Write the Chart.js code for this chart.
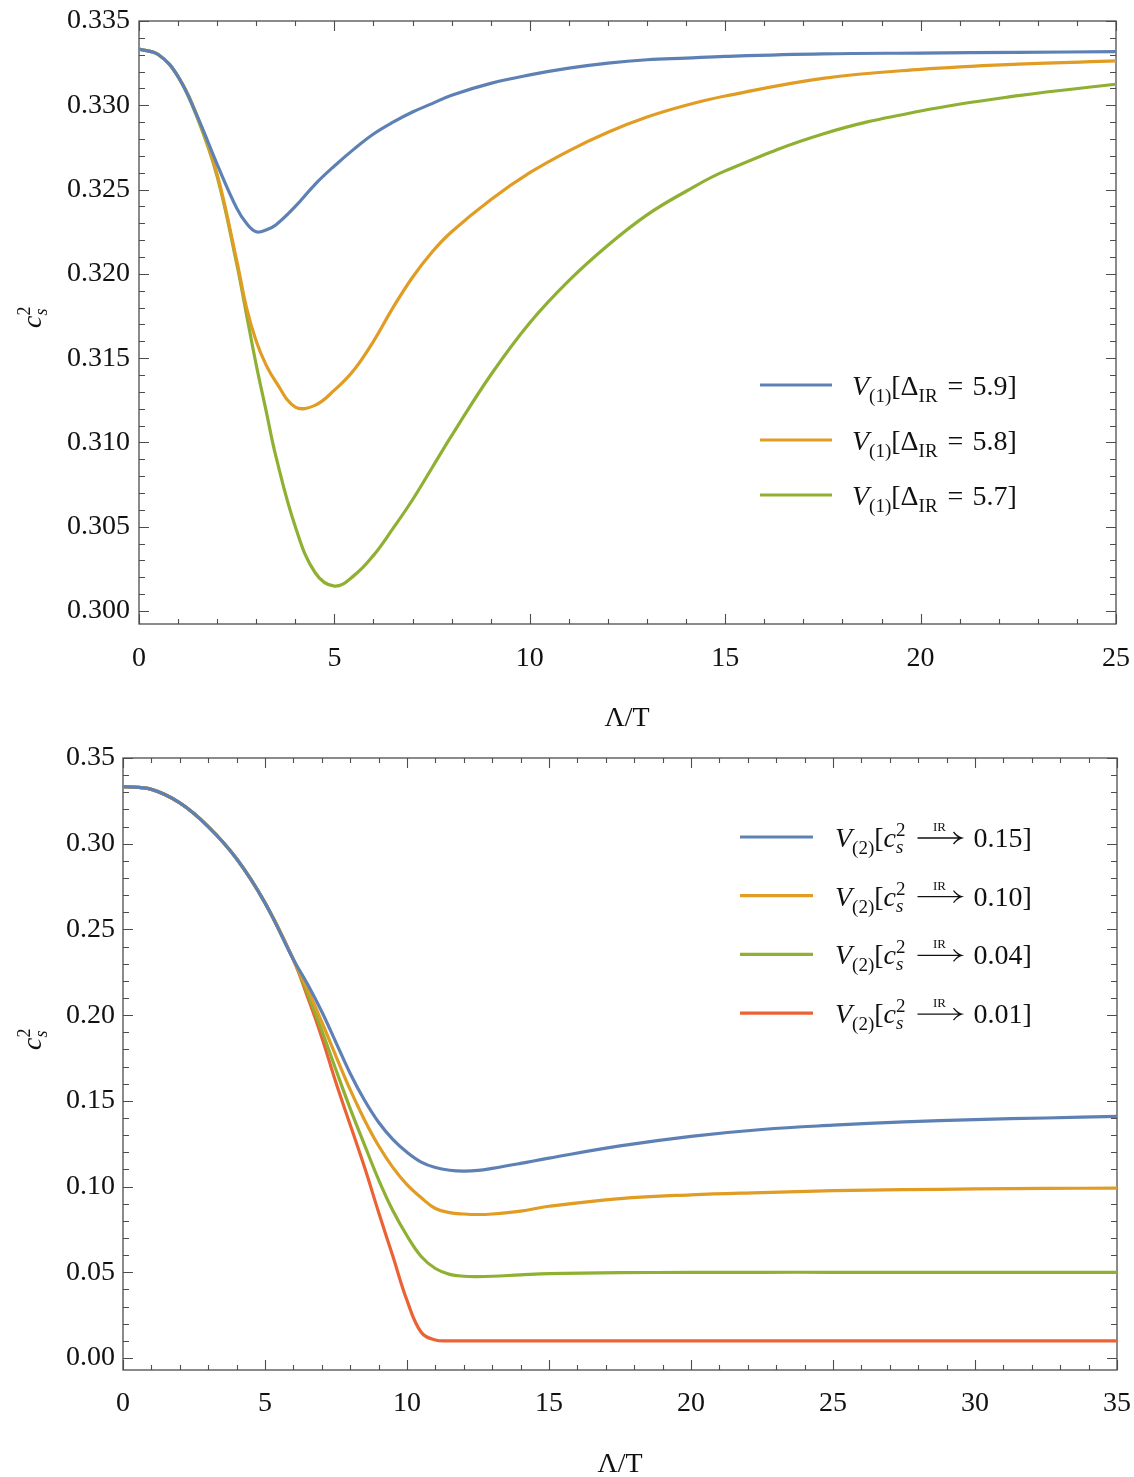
<!DOCTYPE html>
<html>
<head>
<meta charset="utf-8">
<script src="https://cdn.jsdelivr.net/npm/chart.js@4.4.1/dist/chart.umd.min.js"></script>
<style>
  html, body { margin: 0; padding: 0; background: #fff; }
  #page { position: relative; width: 1134px; height: 1477px; }
  canvas { position: absolute; left: 0; }
</style>
</head>
<body>
<div id="page">
  <canvas id="chartTop" width="1134" height="740" style="top:0"></canvas>
  <canvas id="chartBottom" width="1134" height="737" style="top:740px"></canvas>
</div>
<script>
// ---- data ----
const lambdaTop = [0, 0.5, 1, 1.5, 2, 2.5, 2.75, 3, 3.25, 3.5, 4, 4.5, 5, 5.5, 6, 6.5, 7, 7.5, 8, 9, 10, 11, 12, 13, 14, 15, 17.5, 20, 22.5, 25];
const cs2Delta59 = [0.33333, 0.3330, 0.3317, 0.3293, 0.3265, 0.3239, 0.3230, 0.3225, 0.3226, 0.3229, 0.3240, 0.3253, 0.3264, 0.3274, 0.3283, 0.3290, 0.3296, 0.3301, 0.3306, 0.3313, 0.3318, 0.3322, 0.3325, 0.3327, 0.3328, 0.3329, 0.33305, 0.3331, 0.33314, 0.33318];
const cs2Delta58 = [0.33333, 0.3330, 0.3317, 0.3293, 0.3259, 0.3208, 0.3180, 0.3160, 0.3146, 0.3136, 0.3121, 0.3122, 0.3131, 0.3143, 0.3160, 0.3180, 0.3198, 0.3213, 0.3225, 0.3244, 0.3260, 0.3273, 0.3284, 0.3293, 0.3300, 0.33055, 0.3316, 0.33213, 0.33244, 0.33263];
const cs2Delta57 = [0.33333, 0.3330, 0.3317, 0.3292, 0.32577, 0.3206, 0.3176, 0.3146, 0.3119, 0.3092, 0.3050, 0.3023, 0.30148, 0.3021, 0.3033, 0.3049, 0.3066, 0.3085, 0.3104, 0.3140, 0.3171, 0.3196, 0.3217, 0.3235, 0.3249, 0.32611, 0.3283, 0.32966, 0.33057, 0.33125];
const deltaIr = ['5.9', '5.8', '5.7'];

const lambdaBottom = [0, 1, 2, 3, 4, 5, 6, 6.5, 7, 7.5, 8, 8.5, 9, 9.5, 10, 10.5, 11, 11.5, 12, 12.5, 13, 14, 15, 17.5, 20, 22.5, 25, 27.5, 30, 32.5, 35];
const cs2Ir015 = [0.3333, 0.3317, 0.3238, 0.3100, 0.2912, 0.2655, 0.2325, 0.2180, 0.2020, 0.1840, 0.1660, 0.1505, 0.1375, 0.1275, 0.1200, 0.1143, 0.1111, 0.1095, 0.1090, 0.1094, 0.1106, 0.1135, 0.1166, 0.1237, 0.1293, 0.1333, 0.1358, 0.1377, 0.1391, 0.1400, 0.1410];
const cs2Ir010 = [0.3333, 0.3317, 0.3238, 0.3100, 0.2912, 0.2655, 0.2325, 0.2150, 0.1960, 0.1760, 0.1565, 0.1390, 0.1238, 0.1112, 0.1011, 0.0935, 0.0872, 0.0848, 0.0840, 0.0837, 0.0840, 0.0857, 0.0885, 0.0930, 0.0952, 0.0965, 0.0976, 0.0982, 0.0986, 0.0989, 0.0991];
const cs2Ir004 = [0.3333, 0.3317, 0.3238, 0.3100, 0.2912, 0.2655, 0.2324, 0.2125, 0.1910, 0.1680, 0.1455, 0.1245, 0.1040, 0.0860, 0.0713, 0.0592, 0.0522, 0.0488, 0.0477, 0.0475, 0.0477, 0.0485, 0.0492, 0.0498, 0.0499, 0.0500, 0.0500, 0.0500, 0.0500, 0.0500, 0.0500];
const cs2Ir001 = [0.3333, 0.3317, 0.3238, 0.3100, 0.2912, 0.2655, 0.2322, 0.2105, 0.1870, 0.1605, 0.1360, 0.1115, 0.0850, 0.0595, 0.0336, 0.0150, 0.0105, 0.0100, 0.0100, 0.0100, 0.0100, 0.0100, 0.0100, 0.0100, 0.0100, 0.0100, 0.0100, 0.0100, 0.0100, 0.0100, 0.0100];
const cs2Ir = ['0.15', '0.10', '0.04', '0.01'];

const COLOURS = ['#5E81B5', '#E19C24', '#8FB032', '#EB6235'];
const SERIF = '"Liberation Serif", "DejaVu Serif", serif';
const INK = '#111';

const toPoints = (xs, ys) => xs.map((x, i) => ({x, y: ys[i]}));

/**
 * Draws a row of text pieces one after the other (sub/superscripts).
 * Piece: {t, size, italic, dy, kern} | {stack: [piece, ...]} | {arrow: label}
 */
function drawRuns(ctx, x, y, runs) {
  let cx = x;
  const fontOf = (p) => `${p.italic ? 'italic ' : ''}${p.size || 28}px ${SERIF}`;
  runs.forEach((p) => {
    if (p.stack) {
      let w = 0;
      p.stack.forEach((s) => {
        ctx.font = fontOf(s);
        ctx.fillText(s.t, cx + (s.dx || 0), y + (s.dy || 0));
        w = Math.max(w, ctx.measureText(s.t).width + (s.dx || 0));
      });
      cx += w + (p.kern || 0);
      return;
    }
    if (p.arrow) {
      // long right arrow with a small label above it
      const w = p.width;
      ctx.save();
      ctx.strokeStyle = INK;
      ctx.lineWidth = 1.3;
      ctx.beginPath();
      ctx.moveTo(cx, y - 9);
      ctx.lineTo(cx + w - 1, y - 9);
      ctx.moveTo(cx + w - 8, y - 15);
      ctx.quadraticCurveTo(cx + w - 4, y - 10, cx + w, y - 9);
      ctx.quadraticCurveTo(cx + w - 4, y - 8, cx + w - 8, y - 3);
      ctx.stroke();
      ctx.restore();
      ctx.font = `13px ${SERIF}`;
      const lw = ctx.measureText(p.arrow).width;
      ctx.fillText(p.arrow, cx + (w - lw) / 2, y - 16);
      cx += w + (p.kern || 0);
      return;
    }
    ctx.font = fontOf(p);
    ctx.fillText(p.t, cx, y + (p.dy || 0));
    cx += ctx.measureText(p.t).width + (p.kern || 0);
  });
  return cx;
}

// frame with inward ticks on all four sides, plus legend and titles
const framePlugin = {
  id: 'frameTicks',
  beforeDatasetsDraw(chart, args, opts) {
    const {ctx, chartArea: a, scales: {x, y}} = chart;
    ctx.save();
    ctx.strokeStyle = '#4d4d4d';
    ctx.lineWidth = 1.3;
    ctx.strokeRect(a.left, a.top, a.right - a.left, a.bottom - a.top);
    ctx.lineWidth = 1.1;
    ctx.beginPath();
    const isMajor = (v, step) => Math.abs(v / step - Math.round(v / step)) < 1e-6;
    for (let i = Math.ceil(x.min / opts.xMinor - 1e-9); i * opts.xMinor <= x.max + 1e-9; i++) {
      const v = i * opts.xMinor;
      const len = isMajor(v, opts.xMajor) ? 10 : 5;
      const px = Math.round(x.getPixelForValue(v)) + 0.5;
      ctx.moveTo(px, a.bottom); ctx.lineTo(px, a.bottom - len);
      ctx.moveTo(px, a.top); ctx.lineTo(px, a.top + len);
    }
    for (let i = Math.ceil(y.min / opts.yMinor - 1e-9); i * opts.yMinor <= y.max + 1e-9; i++) {
      const v = i * opts.yMinor;
      const len = isMajor(v, opts.yMajor) ? 10 : 6;
      const py = Math.round(y.getPixelForValue(v)) + 0.5;
      ctx.moveTo(a.left, py); ctx.lineTo(a.left + len, py);
      ctx.moveTo(a.right, py); ctx.lineTo(a.right - len, py);
    }
    ctx.stroke();
    ctx.restore();
  },
  afterDraw(chart, args, opts) {
    const {ctx} = chart;
    ctx.save();
    ctx.fillStyle = INK;
    ctx.textBaseline = 'alphabetic';

    // x title
    ctx.font = `28px ${SERIF}`;
    ctx.textAlign = 'center';
    ctx.fillText('\u039B/T', opts.xTitle[0], opts.xTitle[1]);
    ctx.textAlign = 'left';

    // y title c_s^2, rotated
    ctx.translate(opts.yTitle[0], opts.yTitle[1]);
    ctx.rotate(-Math.PI / 2);
    drawRuns(ctx, -10, 9, [
      {t: 'c', italic: true, size: 28},
      {stack: [{t: '2', size: 18, dy: -11}, {t: 's', italic: true, size: 18, dy: 6}]}
    ]);
    ctx.setTransform(1, 0, 0, 1, 0, 0);

    // legend
    const lg = opts.legend;
    lg.rows.forEach((runs, i) => {
      const ly = lg.y0 + i * lg.dy;
      ctx.strokeStyle = COLOURS[i];
      ctx.lineWidth = 3.2;
      ctx.beginPath();
      ctx.moveTo(lg.x0, ly);
      ctx.lineTo(lg.x1, ly);
      ctx.stroke();
      ctx.fillStyle = INK;
      drawRuns(ctx, lg.tx, ly + 10, runs);
    });
    ctx.restore();
  }
};

function lineDataset(xs, ys, i) {
  return {
    data: toPoints(xs, ys),
    borderColor: COLOURS[i],
    borderWidth: 3.2,
    pointRadius: 0,
    fill: false,
    tension: 0.4
  };
}

function makeChart(id, cfg) {
  return new Chart(document.getElementById(id), {
    type: 'line',
    data: {datasets: cfg.series.map((ys, i) => lineDataset(cfg.xs, ys, i))},
    plugins: [framePlugin],
    options: {
      responsive: false,
      animation: false,
      events: [],
      layout: {padding: cfg.padding},
      plugins: {
        legend: {display: false},
        tooltip: {enabled: false},
        frameTicks: cfg.frame
      },
      scales: {
        x: {
          type: 'linear',
          min: cfg.xMin, max: cfg.xMax,
          grid: {display: false, drawTicks: false},
          border: {display: false},
          afterFit: (s) => { s.height = cfg.xHeight; s.paddingLeft = 0; s.paddingRight = 0; },
          ticks: {
            stepSize: cfg.frame.xMajor, includeBounds: false, padding: cfg.xPad,
            color: INK, font: {family: SERIF, size: 28}, maxRotation: 0,
            callback: (v) => String(v)
          }
        },
        y: {
          type: 'linear',
          min: cfg.yMin, max: cfg.yMax,
          grid: {display: false, drawTicks: false},
          border: {display: false},
          afterFit: (s) => { s.width = cfg.yWidth; s.paddingTop = 0; s.paddingBottom = 0; },
          ticks: {
            stepSize: cfg.frame.yMajor, includeBounds: false, padding: cfg.yPad,
            color: INK, font: {family: SERIF, size: 28},
            callback: (v) => v.toFixed(cfg.digits)
          }
        }
      }
    }
  });
}

makeChart('chartTop', {
  xs: lambdaTop,
  series: [cs2Delta59, cs2Delta58, cs2Delta57],
  xMin: 0, xMax: 25, yMin: 0.29923, yMax: 0.335,
  padding: {top: 21, right: 18, left: 0, bottom: 0},
  xHeight: 116, yWidth: 139, xPad: 18, yPad: 9, digits: 3,
  frame: {
    xMajor: 5, xMinor: 1, yMajor: 0.005, yMinor: 0.001,
    xTitle: [627, 726], yTitle: [32, 318],
    legend: {
      x0: 760, x1: 832, tx: 852, y0: 385, dy: 55,
      rows: deltaIr.map((d) => [
        {t: 'V', italic: true},
        {t: '(1)', size: 19, dy: 7},
        {t: '[\u0394'},
        {t: 'IR', size: 19, dy: 7, kern: 10},
        {t: '=', kern: 9},
        {t: d + ']'}
      ])
    }
  }
});

makeChart('chartBottom', {
  xs: lambdaBottom,
  series: [cs2Ir015, cs2Ir010, cs2Ir004, cs2Ir001],
  xMin: 0, xMax: 35, yMin: -0.007, yMax: 0.35,
  padding: {top: 18, right: 17, left: 0, bottom: 0},
  xHeight: 107, yWidth: 123, xPad: 17, yPad: 8, digits: 2,
  frame: {
    xMajor: 5, xMinor: 1, yMajor: 0.05, yMinor: 0.01,
    xTitle: [620, 732], yTitle: [32, 300],
    legend: {
      x0: 740, x1: 813, tx: 835, y0: 97, dy: 58.7,
      rows: cs2Ir.map((c) => [
        {t: 'V', italic: true},
        {t: '(2)', size: 19, dy: 7},
        {t: '['},
        {t: 'c', italic: true},
        {stack: [{t: '2', size: 19, dy: -11}, {t: 's', italic: true, size: 19, dy: 6}], kern: 12},
        {arrow: 'IR', width: 44, kern: 12},
        {t: c + ']'}
      ])
    }
  }
});
</script>
</body>
</html>
